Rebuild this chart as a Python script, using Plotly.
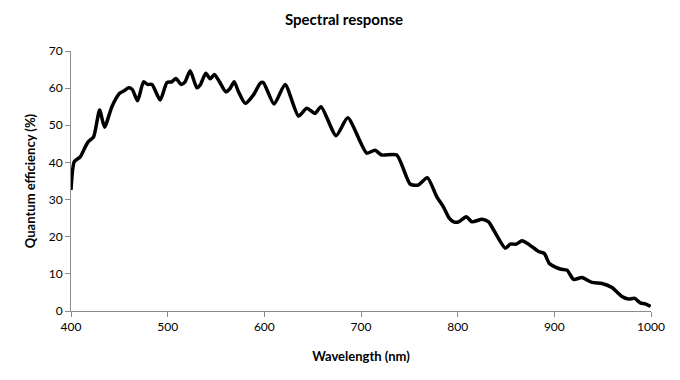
import plotly.graph_objects as go

wavelength = [400, 403.4, 409.6, 414.8, 418, 423.4, 429.6, 434.7, 442.3, 450.3, 454.4, 459.6,
              463.5, 468.9, 475, 479.2, 483.8, 492.3, 499.2, 504.3, 508.5, 514, 518, 523.3,
              530.2, 533.6, 539.5, 544, 548.4, 553.6, 560.2, 564.5, 568.8, 573.3, 580.2, 588.8,
              595.7, 599, 610.1, 621.5, 635.3, 643.9, 652.5, 658.7, 674.2, 686.3, 705.9, 714.5,
              721.4, 737, 750.7, 759.3, 768.6, 778.3, 785.1, 791.3, 795.8, 801, 808.9, 814.8,
              825.2, 832, 837.2, 849.3, 854.4, 860.6, 866.5, 873.4, 883.7, 889.6, 895.1, 906.2,
              913.1, 919.9, 928.6, 938.9, 949.3, 959.6, 970, 976.8, 983, 988.9, 994, 999.6]
efficiency = [32.6, 40.2, 41.5, 44.2, 45.6, 46.9, 54.1, 49.5, 55.0, 58.6, 59.2, 60.1,
              59.6, 56.6, 61.7, 61.0, 61.0, 56.8, 61.5, 61.7, 62.6, 61.0, 61.7, 64.7,
              60.1, 60.8, 64.0, 62.5, 63.7, 61.7, 59.0, 59.9, 61.7, 59.0, 55.9, 58.2,
              61.3, 61.5, 55.7, 61.0, 52.5, 54.6, 53.2, 55.0, 47.2, 52.0, 42.5, 43.3,
              42.0, 42.0, 34.2, 33.9, 35.9, 30.8, 28.1, 25.0, 24.0, 24.0, 25.4, 24.0,
              24.7, 24.0, 21.8, 16.9, 18.0, 18.0, 18.9, 18.0, 16.0, 15.5, 12.7, 11.3,
              11.0, 8.5, 9.0, 7.7, 7.4, 6.3, 3.9, 3.2, 3.4, 2.2, 1.9, 1.2]

x_ticks = [400, 500, 600, 700, 800, 900, 1000]
y_ticks = [0, 10, 20, 30, 40, 50, 60, 70]

FONT = "Lato"
W, H = 672, 372

fig = go.Figure()
fig.add_trace(go.Scatter(
    x=wavelength, y=efficiency, mode="lines",
    line=dict(color="black", width=3.5, shape="spline", smoothing=0.6),
    showlegend=False, hoverinfo="skip"))

fig.update_layout(
    width=W, height=H,
    margin=dict(l=63, r=29, t=43, b=69),
    paper_bgcolor="white", plot_bgcolor="white",
    font=dict(family=FONT, size=12, color="black"),
    title=dict(text="<b>Spectral response</b>", x=0.5, xanchor="center",
               y=1 - 12 / H, yanchor="middle", font=dict(family=FONT, size=15, color="black")),
)
fig.update_xaxes(
    range=[400, 1000], tickvals=x_ticks, ticktext=[str(v) for v in x_ticks],
    showgrid=False, zeroline=False, showline=True, linecolor="#8c8c8c", linewidth=1,
    ticks="outside", ticklen=5, tickcolor="#8c8c8c", automargin=False,
    tickfont=dict(family=FONT, size=12, color="black"),
    title=dict(text="<b>Wavelength (nm)</b>", font=dict(family=FONT, size=13, color="black"), standoff=18),
)
fig.update_yaxes(
    range=[0, 70], tickvals=y_ticks, ticktext=[str(v) for v in y_ticks],
    showgrid=False, zeroline=False, showline=True, linecolor="#8c8c8c", linewidth=1,
    ticks="outside", ticklen=5, tickcolor="#8c8c8c", automargin=False,
    tickfont=dict(family=FONT, size=12, color="black"),
    title=dict(text="<b>Quantum efficiency (%)</b>", font=dict(family=FONT, size=13, color="black"), standoff=10),
)

fig.write_html("out.html")
